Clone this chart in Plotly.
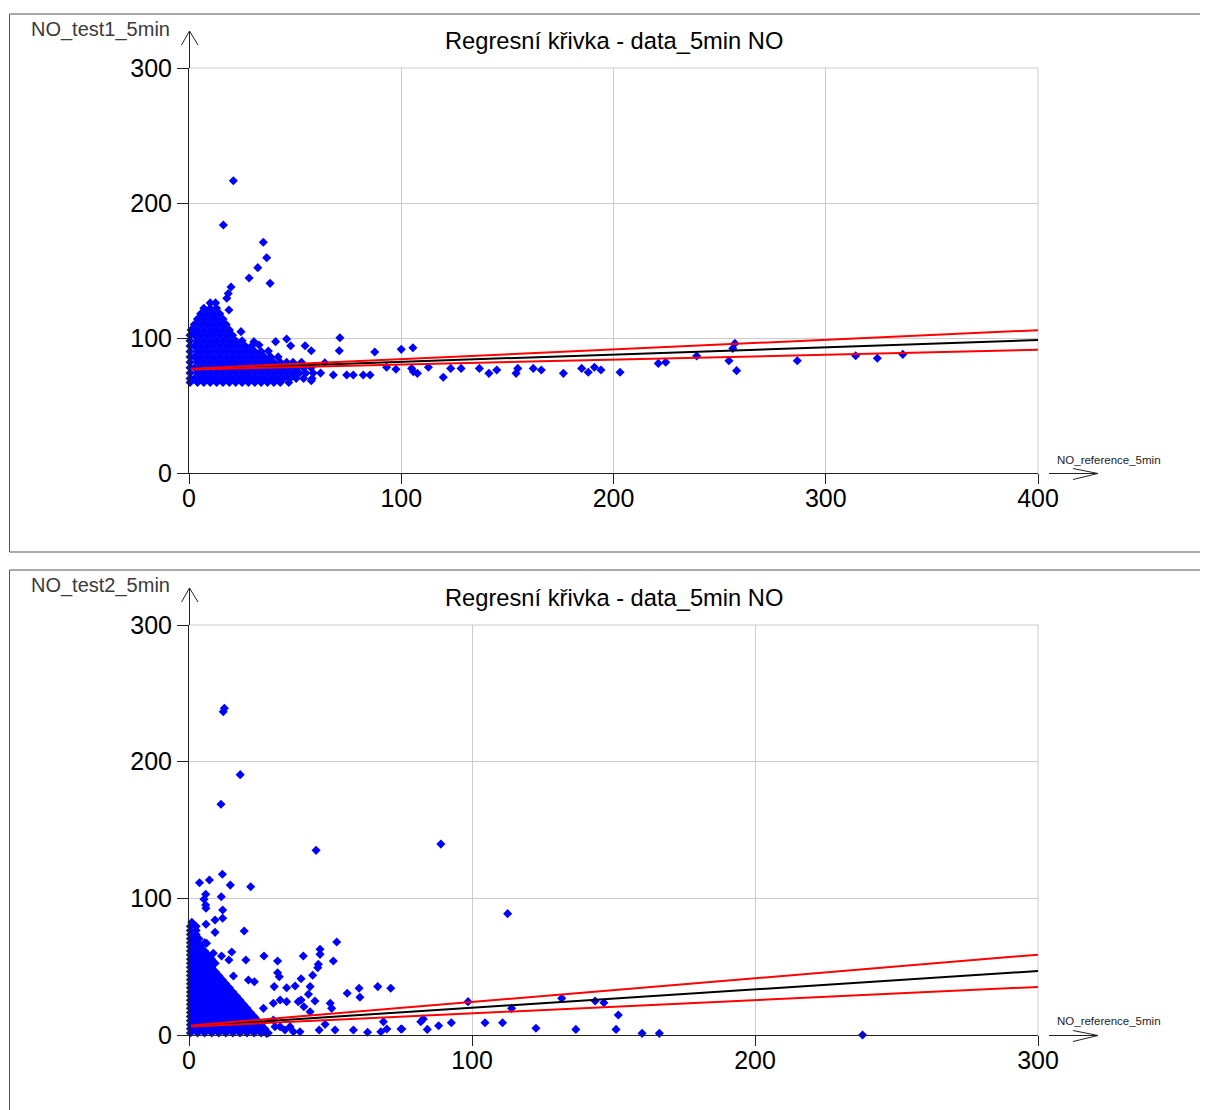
import plotly.graph_objects as go

# ---------------- data ----------------
x_ticks_top = [0, 100, 200, 300, 400]
x_ticks_bottom = [0, 100, 200, 300]
y_ticks = [0, 100, 200, 300]

# dense cloud of the top panel (NO_reference_5min, NO_test1_5min)
top_cluster = [
    (10, 126), (12.5, 126),
    (7, 122), (10, 122), (13, 122),
    (5.5, 118), (8.5, 118), (11.5, 118), (14.5, 118),
    (4, 114), (7, 114), (10, 114), (13, 114), (16, 114),
    (2.5, 110), (5.5, 110), (8.5, 110), (11.5, 110), (14.5, 110), (17.5, 110),
    (1, 106), (4, 106), (7, 106), (10, 106), (13, 106), (16, 106), (19, 106),
    (0.5, 102), (2.5, 102), (5.5, 102), (8.5, 102), (11.5, 102), (14.5, 102), (17.5, 102), (20.5, 102),
    (0.5, 98), (4, 98), (7, 98), (10, 98), (13, 98), (16, 98), (19, 98), (22, 98), (25, 98),
    (0.5, 94), (2.5, 94), (5.5, 94), (8.5, 94), (11.5, 94), (14.5, 94), (17.5, 94), (20.5, 94),
    (23.5, 94), (26.5, 94), (29.5, 94),
    (0.5, 90), (4, 90), (7, 90), (10, 90), (13, 90), (16, 90), (19, 90), (22, 90), (25, 90),
    (28, 90), (31, 90), (34, 90),
    (0.5, 86), (2.5, 86), (5.5, 86), (8.5, 86), (11.5, 86), (14.5, 86), (17.5, 86), (20.5, 86),
    (23.5, 86), (26.5, 86), (29.5, 86), (32.5, 86), (35.5, 86), (38.5, 86), (42, 86),
    (0.5, 82), (4, 82), (7, 82), (10, 82), (13, 82), (16, 82), (19, 82), (22, 82), (25, 82),
    (28, 82), (31, 82), (34, 82), (37, 82), (40, 82), (43, 82), (46, 82), (49, 82), (53, 82),
    (0.5, 78), (2.5, 78), (5.5, 78), (8.5, 78), (11.5, 78), (14.5, 78), (17.5, 78), (20.5, 78),
    (23.5, 78), (26.5, 78), (29.5, 78), (32.5, 78), (35.5, 78), (38.5, 78), (41.5, 78), (44.5, 78),
    (47.5, 78), (50.5, 78), (54, 78), (57.5, 78),
    (0.5, 74), (4, 74), (7, 74), (10, 74), (13, 74), (16, 74), (19, 74), (22, 74), (25, 74),
    (28, 74), (31, 74), (34, 74), (37, 74), (40, 74), (43, 74), (46, 74), (49, 74), (52, 74),
    (55, 74), (58.5, 74), (62, 74),
    (0.5, 70), (2.5, 70), (5.5, 70), (8.5, 70), (11.5, 70), (14.5, 70), (17.5, 70), (20.5, 70),
    (23.5, 70), (26.5, 70), (29.5, 70), (32.5, 70), (35.5, 70), (38.5, 70), (41.5, 70), (44.5, 70),
    (47.5, 70), (50.5, 70), (54, 70), (58, 70),
    (0.5, 67), (4, 67), (7, 67), (10, 67), (13, 67), (16, 67), (19, 67), (22, 67), (25, 67),
    (28, 67), (31, 67), (34, 67), (37, 67), (40, 67), (43, 67), (47, 67),
]

top_outliers = [
    (20.9, 216.5), (16.2, 183.7), (35, 170.9), (36.6, 159.5), (32.4, 152.1), (28.3, 144.4),
    (38.2, 140.5), (19.8, 137.8), (18.5, 133), (17.8, 129.4), (18.8, 120.7), (24.5, 104.7),
    (40.8, 97.3), (46, 99.3), (47.9, 94.3), (54.7, 94.3), (57.6, 90.6), (71.1, 100.2),
    (70.8, 90.6), (87.5, 89.6), (100, 91.6), (105.5, 92.8), (93.1, 78.3), (97.5, 76.8),
    (105.7, 75), (68, 72.6), (74.3, 72.6), (77.4, 72.6), (82.1, 72.6), (85.3, 72.6),
    (57.6, 68.4), (30.6, 97.3), (33, 94.8), (37.4, 90.4), (64, 81.7),
    (104.9, 77.5), (107.6, 73.8), (112.8, 78.3), (119.8, 70.9), (123.3, 77.5), (128.2, 77.5),
    (136.8, 77.5), (141.3, 73.8), (145, 76.3), (154.1, 73.8), (154.9, 77.5), (162.2, 77.5),
    (166, 76.3), (176.4, 73.8), (185, 77.5), (188.1, 74.6), (191, 78.3), (194.1, 76.3),
    (203.1, 74.6), (221.1, 81.2), (224.6, 82), (239.2, 86.7), (254.4, 83.2), (256.2, 92.3),
    (257.2, 96), (258, 75.8), (286.6, 83.2), (314.1, 86.9), (324.3, 85), (336.3, 87.9),
]

# regression line and confidence band, top panel
top_line_x = [1, 400]
top_fit = [77.0, 98.5]
top_upper = [77.3, 105.8]
top_lower = [76.7, 91.3]

# dense cloud of the bottom panel (NO_reference_5min, NO_test2_5min)
bottom_cluster = [
    (1, 82.5),
    (0.5, 79.5), (2.5, 79.5),
    (0.5, 76.5), (2.5, 76.5),
    (0.5, 73.5), (2.5, 73.5),
    (0.5, 70.5), (1.75, 70.5), (3.5, 70.5),
    (0.5, 67.5), (3, 67.5), (5.5, 67.5),
    (0.5, 64.5), (1.75, 64.5), (4.25, 64.5),
    (0.5, 61.5), (3, 61.5), (5.5, 61.5),
    (0.5, 58.5), (1.75, 58.5), (4.25, 58.5), (6.75, 58.5),
    (0.5, 55.5), (3, 55.5), (5.5, 55.5), (8, 55.5),
    (0.5, 52.5), (1.75, 52.5), (4.25, 52.5), (6.75, 52.5), (9.25, 52.5),
    (0.5, 49.5), (3, 49.5), (5.5, 49.5), (8, 49.5),
    (0.5, 46.5), (1.75, 46.5), (4.25, 46.5), (6.75, 46.5), (9.25, 46.5),
    (0.5, 43.5), (3, 43.5), (5.5, 43.5), (8, 43.5), (10.5, 43.5),
    (0.5, 40.5), (1.75, 40.5), (4.25, 40.5), (6.75, 40.5), (9.25, 40.5), (11.75, 40.5),
    (0.5, 37.5), (3, 37.5), (5.5, 37.5), (8, 37.5), (10.5, 37.5), (13, 37.5),
    (0.5, 34.5), (1.75, 34.5), (4.25, 34.5), (6.75, 34.5), (9.25, 34.5), (11.75, 34.5), (14.25, 34.5),
    (0.5, 31.5), (3, 31.5), (5.5, 31.5), (8, 31.5), (10.5, 31.5), (13, 31.5), (15.5, 31.5),
    (0.5, 28.5), (1.75, 28.5), (4.25, 28.5), (6.75, 28.5), (9.25, 28.5), (11.75, 28.5), (14.25, 28.5),
    (16.75, 28.5),
    (0.5, 25.5), (3, 25.5), (5.5, 25.5), (8, 25.5), (10.5, 25.5), (13, 25.5), (15.5, 25.5), (18, 25.5),
    (0.5, 22.5), (1.75, 22.5), (4.25, 22.5), (6.75, 22.5), (9.25, 22.5), (11.75, 22.5), (14.25, 22.5),
    (16.75, 22.5), (19.25, 22.5),
    (0.5, 19.5), (3, 19.5), (5.5, 19.5), (8, 19.5), (10.5, 19.5), (13, 19.5), (15.5, 19.5), (18, 19.5),
    (20.5, 19.5),
    (0.5, 16.5), (1.75, 16.5), (4.25, 16.5), (6.75, 16.5), (9.25, 16.5), (11.75, 16.5), (14.25, 16.5),
    (16.75, 16.5), (19.25, 16.5), (21.75, 16.5),
    (0.5, 13.5), (3, 13.5), (5.5, 13.5), (8, 13.5), (10.5, 13.5), (13, 13.5), (15.5, 13.5), (18, 13.5),
    (20.5, 13.5), (23, 13.5),
    (0.5, 10.5), (1.75, 10.5), (4.25, 10.5), (6.75, 10.5), (9.25, 10.5), (11.75, 10.5), (14.25, 10.5),
    (16.75, 10.5), (19.25, 10.5), (21.75, 10.5), (24.25, 10.5),
    (0.5, 7.5), (3, 7.5), (5.5, 7.5), (8, 7.5), (10.5, 7.5), (13, 7.5), (15.5, 7.5), (18, 7.5),
    (20.5, 7.5), (23, 7.5), (25.5, 7.5),
    (0.5, 4.5), (1.75, 4.5), (4.25, 4.5), (6.75, 4.5), (9.25, 4.5), (11.75, 4.5), (14.25, 4.5),
    (16.75, 4.5), (19.25, 4.5), (21.75, 4.5), (24.25, 4.5), (26.75, 4.5),
    (0.5, 1.5), (3, 1.5), (5.5, 1.5), (8, 1.5), (10.5, 1.5), (13, 1.5), (15.5, 1.5), (18, 1.5),
    (20.5, 1.5), (23, 1.5), (25.5, 1.5), (28, 1.5),
]

bottom_outliers = [
    (12.5, 239), (12.1, 236.5), (18.1, 190.5), (11.3, 168.8), (44.9, 135.1), (89, 139.7),
    (112.6, 88.8), (3.7, 111.4), (7.2, 113.4), (11.8, 117.6), (14.6, 109.7), (21.8, 108.5),
    (5.9, 102.9), (5.3, 99.3), (5.9, 95.1), (6, 92.7), (11.4, 101.2), (11.9, 91.5), (11.9, 85.4),
    (9.2, 84.1), (6, 81), (19.5, 76.1), (9.2, 75.1), (6.2, 67.1), (52.2, 68), (46.3, 62.7),
    (46.3, 59), (8.6, 59.8), (11.5, 57.8), (15.1, 60.7), (26.5, 57.8), (20.1, 54.9), (40.4, 57.8),
    (31.3, 54.1), (51, 54.1), (45.7, 51.7), (45.5, 49.2), (14.1, 54.9), (8.6, 52.9),
    (31.3, 45.6), (31.9, 42.7), (43.7, 43.7), (15.7, 43.2), (39.6, 41.2),
    (37.5, 35.9), (34.5, 34.6), (30.1, 35.4), (42.8, 35.4), (42.2, 29.8), (44.5, 24.9),
    (55.9, 30.5), (60.1, 34.2), (60.4, 27.6), (66.7, 35.4), (71.3, 34.2),
    (49.9, 23.2), (50.4, 19.5), (29.8, 23.2), (32.2, 25.6), (34.5, 24.4), (39.6, 25.6),
    (26.3, 19.5), (23.1, 39), (21, 40.2), (38.6, 24.4), (40.6, 20.7), (42.8, 17),
    (29.8, 11), (35.7, 6.1), (32.2, 6.1),
    (46, 3.7), (51.6, 3.7), (58.1, 3.7), (63.1, 2), (67.8, 2.4), (69.9, 4.4), (74.9, 4.4),
    (68.7, 9.7), (48.1, 7.8), (36.9, 2.4), (39.2, 2.4), (33.9, 3.7), (30.4, 6.1), (27.4, 1.2),
    (75.2, 4.4), (81.9, 9.7), (82.8, 11.7), (84.2, 4.1), (88.2, 6.8), (92.7, 9), (98.6, 24.4),
    (104.6, 9), (110.8, 9), (114, 19.5), (122.6, 4.9), (131.7, 26.8), (136.7, 4.1),
    (143.5, 24.9), (146.6, 23.6), (151.7, 14.6), (150.9, 4.1), (160.1, 1.2), (166.2, 1.2),
    (238, 0),
]

# regression line and confidence band, bottom panel
bottom_line_x = [0.7, 300]
bottom_fit = [6.6, 46.8]
bottom_upper = [7.0, 58.8]
bottom_lower = [6.2, 35.2]

title_text = "Regresní křivka - data_5min NO"
x_label = "NO_reference_5min"
y_label_top = "NO_test1_5min"
y_label_bottom = "NO_test2_5min"

# ---------------- layout helpers ----------------
# the page body has an 8px margin; the figure is placed at (8, 8) of the window
OFF = 8
W, H = 1200, 1102
FONT = "Liberation Sans, Arial, sans-serif"


def px(v):
    return (v - OFF) / W


def py(v):
    return 1 - (v - OFF) / H


BLUE = "#0000ff"
AXIS = "#222222"
GRID = "#cccccc"

fig = go.Figure()


def add_panel(pts, lx, fit, up, lo, xa, ya):
    xs = [p[0] for p in pts]
    ys = [p[1] for p in pts]
    fig.add_trace(go.Scatter(
        x=xs, y=ys, mode="markers", xaxis=xa, yaxis=ya, cliponaxis=False,
        marker=dict(symbol="diamond", size=7, color=BLUE, line=dict(width=0)),
        showlegend=False, hoverinfo="skip"))
    fig.add_trace(go.Scatter(x=lx, y=fit, mode="lines", xaxis=xa, yaxis=ya,
                             line=dict(color="black", width=2), showlegend=False))
    fig.add_trace(go.Scatter(x=lx, y=up, mode="lines", xaxis=xa, yaxis=ya,
                             line=dict(color="#ff0000", width=2), showlegend=False))
    fig.add_trace(go.Scatter(x=lx, y=lo, mode="lines", xaxis=xa, yaxis=ya,
                             line=dict(color="#ff0000", width=2), showlegend=False))


add_panel(top_cluster + top_outliers, top_line_x, top_fit, top_upper, top_lower, "x", "y")
add_panel(bottom_cluster + bottom_outliers, bottom_line_x, bottom_fit, bottom_upper, bottom_lower, "x2", "y2")


def xaxis_cfg(rng, ticks, anchor):
    return dict(domain=[px(189), px(1038)], range=rng, tickvals=ticks, ticktext=[str(t) for t in ticks],
                anchor=anchor, showgrid=True, gridcolor=GRID, gridwidth=1, zeroline=False,
                showline=True, linecolor=AXIS, linewidth=1, ticks="outside", ticklen=10,
                tickcolor=AXIS, tickwidth=1, tickfont=dict(family=FONT, size=25, color="black"),
                ticklabelstandoff=-7, automargin=False, fixedrange=True)


def yaxis_cfg(rng, ticks, anchor, top, bottom):
    return dict(domain=[py(bottom), py(top)], range=rng, tickvals=ticks, ticktext=[str(t) for t in ticks],
                anchor=anchor, showgrid=True, gridcolor=GRID, gridwidth=1, zeroline=False,
                showline=True, linecolor=AXIS, linewidth=1, ticks="outside", ticklen=11,
                tickcolor=AXIS, tickwidth=1, tickfont=dict(family=FONT, size=25, color="black"),
                ticklabelstandoff=0, automargin=False, fixedrange=True)


shapes = []
annotations = []


def panel_decor(box_top, box_bottom, ax_top, ax_bottom, xref, yref, title_y, ylab, xlab_y):
    # frame of the panel
    shapes.append(dict(type="rect", xref="paper", yref="paper", x0=px(9.5), x1=px(1230),
                       y0=py(box_bottom), y1=py(box_top), line=dict(color="#555555", width=1)))
    # right / top grid borders
    shapes.append(dict(type="line", xref=xref + " domain", yref=yref + " domain", x0=1, x1=1, y0=0, y1=1,
                       line=dict(color=GRID, width=1), layer="below"))
    shapes.append(dict(type="line", xref=xref + " domain", yref=yref + " domain", x0=0, x1=1, y0=1, y1=1,
                       line=dict(color=GRID, width=1), layer="below"))
    # vertical axis arrow
    tip = ax_top - 37
    shapes.append(dict(type="line", xref="paper", yref="paper", x0=px(189.5), x1=px(189.5),
                       y0=py(ax_top), y1=py(tip), line=dict(color=AXIS, width=1)))
    shapes.append(dict(type="line", xref="paper", yref="paper", x0=px(181.5), x1=px(189.5),
                       y0=py(tip + 14), y1=py(tip), line=dict(color=AXIS, width=1)))
    shapes.append(dict(type="line", xref="paper", yref="paper", x0=px(198), x1=px(189.5),
                       y0=py(tip + 14), y1=py(tip), line=dict(color=AXIS, width=1)))
    # horizontal axis arrow
    ya = ax_bottom + 0.5
    shapes.append(dict(type="line", xref="paper", yref="paper", x0=px(1049), x1=px(1098),
                       y0=py(ya), y1=py(ya), line=dict(color=AXIS, width=1)))
    shapes.append(dict(type="line", xref="paper", yref="paper", x0=px(1073), x1=px(1098),
                       y0=py(ya - 5), y1=py(ya), line=dict(color=AXIS, width=1)))
    shapes.append(dict(type="line", xref="paper", yref="paper", x0=px(1073), x1=px(1098),
                       y0=py(ya + 6), y1=py(ya), line=dict(color=AXIS, width=1)))
    # texts
    annotations.append(dict(text=title_text, xref="paper", yref="paper", x=px(614), y=py(title_y),
                            xanchor="center", yanchor="middle", showarrow=False,
                            font=dict(family=FONT, size=23.7, color="black")))
    annotations.append(dict(text=ylab[0], xref="paper", yref="paper", x=px(172), y=py(ylab[1]),
                            xanchor="right", yanchor="middle", showarrow=False,
                            font=dict(family=FONT, size=20, color="#3a3a3a")))
    annotations.append(dict(text=x_label, xref="paper", yref="paper", x=px(1108.5), y=py(xlab_y),
                            xanchor="center", yanchor="middle", showarrow=False,
                            font=dict(family=FONT, size=11.5, color="#222222")))


panel_decor(14, 552, 68, 473, "x", "y", 41, (y_label_top, 29), 460)
panel_decor(570, 1125, 625, 1035, "x2", "y2", 598, (y_label_bottom, 585), 1021)

fig.update_layout(
    template="none",
    width=W, height=H, margin=dict(l=0, r=0, t=0, b=0, pad=0, autoexpand=False),
    paper_bgcolor="white", plot_bgcolor="white",
    showlegend=False,
    xaxis=xaxis_cfg([0, 400], x_ticks_top, "y"),
    yaxis=yaxis_cfg([0, 300], y_ticks, "x", 68, 473),
    xaxis2=xaxis_cfg([0, 300], x_ticks_bottom, "y2"),
    yaxis2=yaxis_cfg([0, 300], y_ticks, "x2", 625, 1035),
    shapes=shapes, annotations=annotations,
)

fig.write_html("out.html")
